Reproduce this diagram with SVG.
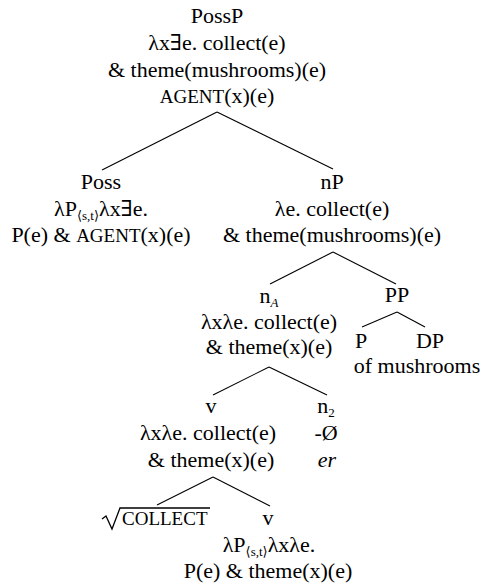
<svg xmlns="http://www.w3.org/2000/svg" width="485" height="586" viewBox="0 0 485 586" font-family="'Liberation Serif', Tinos, 'Times New Roman', 'Nimbus Roman', 'DejaVu Serif', 'Noto Serif', serif">
<style>
text{font-family:'Liberation Serif',Tinos,'Times New Roman','Nimbus Roman','DejaVu Serif','Noto Serif',serif;font-size:22px;fill:#000;text-anchor:middle}
.sc{font-size:19px}
.sub{font-size:13px}
.it{font-style:italic}
.st{text-anchor:start}
#connectors line{stroke:#000;stroke-width:1.1}
.rad{fill:none;stroke:#000;stroke-width:1.3}
</style>
<rect width="485" height="586" fill="#fff"/>
<g id="connectors">
<line x1="217" y1="112" x2="102" y2="170"/>
<line x1="217" y1="112" x2="333" y2="169"/>
<line x1="333" y1="252" x2="270" y2="284"/>
<line x1="333" y1="252" x2="396" y2="284"/>
<line x1="397" y1="312" x2="362" y2="327"/>
<line x1="397" y1="312" x2="425" y2="327"/>
<line x1="269" y1="367" x2="213" y2="395"/>
<line x1="269" y1="367" x2="327" y2="395"/>
<line x1="213" y1="477" x2="157" y2="505"/>
<line x1="213" y1="477" x2="270" y2="506"/>
</g>
<g id="PossP">
<text x="217" y="23">PossP</text>
<text x="217" y="50">λx∃e. collect(e)</text>
<text x="217" y="77">&amp; theme(mushrooms)(e)</text>
<text x="217" y="103"><tspan class="sc">AGENT</tspan>(x)(e)</text>
</g>
<g id="Poss">
<text x="101" y="189">Poss</text>
<text x="101" y="216">λP<tspan class="sub" dy="4">⟨s,t⟩</tspan><tspan dy="-4">λx∃e.</tspan></text>
<text x="101" y="242">P(e) &amp; <tspan class="sc">AGENT</tspan>(x)(e)</text>
</g>
<g id="nP">
<text x="332" y="189">nP</text>
<text x="332" y="216">λe. collect(e)</text>
<text x="332" y="242">&amp; theme(mushrooms)(e)</text>
</g>
<g id="nA">
<text x="269" y="303">n<tspan class="sub it" dy="4">A</tspan></text>
<text x="269" y="329">λxλe. collect(e)</text>
<text x="269" y="354">&amp; theme(x)(e)</text>
</g>
<g id="PP">
<text x="397" y="302">PP</text>
</g>
<g id="P">
<text x="361" y="348">P</text>
</g>
<g id="DP">
<text x="430" y="348">DP</text>
<text x="417" y="373">of mushrooms</text>
</g>
<g id="v1">
<text x="211" y="413">v</text>
<text x="208" y="440">λxλe. collect(e)</text>
<text x="211" y="467">&amp; theme(x)(e)</text>
</g>
<g id="n2">
<text x="326" y="413">n<tspan class="sub" dy="4">2</tspan></text>
<text x="326" y="440">-Ø</text>
<text x="327" y="467" class="it">er</text>
</g>
<g id="root">
<path class="rad" d="M102,519 L106,516 L112,529 L120,508 H210"/>
<text x="122" y="525" class="sc st">COLLECT</text>
</g>
<g id="v2">
<text x="268" y="525">v</text>
<text x="269" y="552">λP<tspan class="sub" dy="4">⟨s,t⟩</tspan><tspan dy="-4">λxλe.</tspan></text>
<text x="268" y="578">P(e) &amp; theme(x)(e)</text>
</g>
</svg>
